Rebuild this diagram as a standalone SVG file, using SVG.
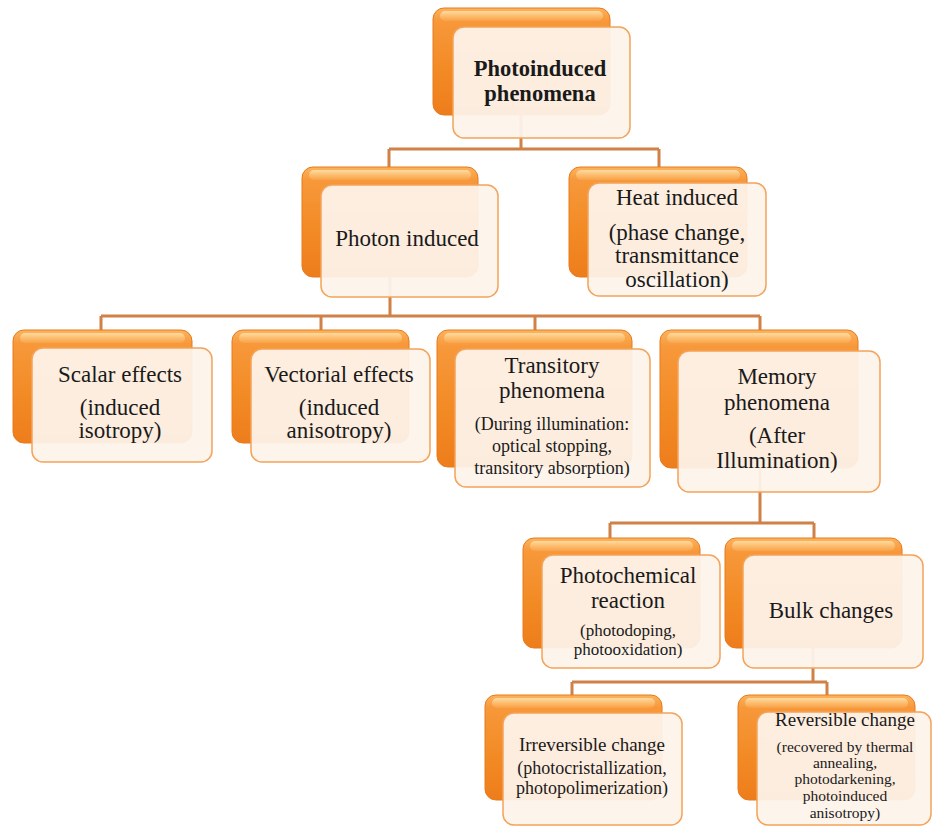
<svg xmlns="http://www.w3.org/2000/svg" width="932" height="827" viewBox="0 0 932 827">
<defs>
<linearGradient id="og" x1="0" y1="0" x2="0" y2="1">
<stop offset="0" stop-color="#fbb460"/>
<stop offset="0.12" stop-color="#f7983a"/>
<stop offset="0.6" stop-color="#f28a24"/>
<stop offset="1" stop-color="#ee7d1c"/>
</linearGradient>
<linearGradient id="hl" x1="0" y1="0" x2="0" y2="1">
<stop offset="0" stop-color="#ffe0a8" stop-opacity="0.9"/>
<stop offset="1" stop-color="#ffc677" stop-opacity="0.2"/>
</linearGradient>
<style>
.back{fill:url(#og);stroke:#e77a1d;stroke-width:1}
.hl{fill:url(#hl)}
.front{fill:#fdf3eb;fill-opacity:0.94;stroke:#f4a35a;stroke-width:1.5}
.con{fill:none;stroke:#cf8147;stroke-width:3}
text{font-family:"Liberation Serif","Times New Roman",serif;fill:#1a1a1a;text-anchor:middle}
.t{font-size:23px}
.m{font-size:19px}
.s{font-size:18px}
.p{font-size:17px}
.xs{font-size:15.5px}
.b{font-weight:bold;font-size:22.5px}
</style>
</defs>
<g id="connectors">
<path class="con" d="M521 115 V149 M389 149 H659 M389 149 V167 M659 149 V167"/>
<path class="con" d="M390 277 V316 M101 316 H760 M101 316 V330 M321 316 V330 M535 316 V330 M760 316 V330"/>
<path class="con" d="M760 468 V523 M610 523 H814 M610 523 V538 M814 523 V538"/>
<path class="con" d="M813 648 V682 M572 682 H827 M572 682 V695 M827 682 V695"/>
</g>
<g id="root">
<rect class="back" x="433" y="8" width="177" height="107" rx="11"/>
<rect class="hl" x="440" y="11" width="163" height="10" rx="5"/>
<rect class="front" x="453" y="27" width="177" height="111" rx="11"/>
<text class="b" x="540" y="76">Photoinduced</text>
<text class="b" x="540" y="101">phenomena</text>
</g>
<g id="photon">
<rect class="back" x="302" y="167" width="176" height="110" rx="11"/>
<rect class="hl" x="309" y="170" width="162" height="10" rx="5"/>
<rect class="front" x="321" y="185" width="177" height="112" rx="11"/>
<text class="t" x="407" y="246">Photon induced</text>
</g>
<g id="heat">
<rect class="back" x="569" y="167" width="178" height="110" rx="11"/>
<rect class="hl" x="576" y="170" width="164" height="10" rx="5"/>
<rect class="front" x="588" y="183" width="178" height="113" rx="11"/>
<text class="t" x="677" y="205">Heat  induced</text>
<text class="t" x="677" y="240">(phase change,</text>
<text class="t" x="677" y="263">transmittance</text>
<text class="t" x="677" y="287">oscillation)</text>
</g>
<g id="scalar">
<rect class="back" x="13" y="330" width="179" height="113" rx="11"/>
<rect class="hl" x="20" y="333" width="165" height="10" rx="5"/>
<rect class="front" x="32" y="348" width="180" height="114" rx="11"/>
<text class="t" x="120" y="382">Scalar effects</text>
<text class="t" x="120" y="415">(induced</text>
<text class="t" x="120" y="438">isotropy)</text>
</g>
<g id="vectorial">
<rect class="back" x="232" y="330" width="177" height="113" rx="11"/>
<rect class="hl" x="239" y="333" width="163" height="10" rx="5"/>
<rect class="front" x="251" y="349" width="179" height="113" rx="11"/>
<text class="t" x="339" y="382">Vectorial  effects</text>
<text class="t" x="339" y="415">(induced</text>
<text class="t" x="339" y="438">anisotropy)</text>
</g>
<g id="transitory">
<rect class="back" x="437" y="330" width="195" height="137" rx="11"/>
<rect class="hl" x="444" y="333" width="181" height="10" rx="5"/>
<rect class="front" x="455" y="349" width="195" height="138" rx="11"/>
<text class="t" x="552" y="373">Transitory</text>
<text class="t" x="552" y="398">phenomena</text>
<text class="s" x="552" y="430">(During illumination:</text>
<text class="s" x="552" y="452">optical stopping,</text>
<text class="s" x="552" y="474">transitory absorption)</text>
</g>
<g id="memory">
<rect class="back" x="660" y="330" width="198" height="138" rx="11"/>
<rect class="hl" x="667" y="333" width="184" height="10" rx="5"/>
<rect class="front" x="678" y="351" width="202" height="141" rx="11"/>
<text class="t" x="777" y="384">Memory</text>
<text class="t" x="777" y="410">phenomena</text>
<text class="t" x="777" y="443">(After</text>
<text class="t" x="777" y="468">Illumination)</text>
</g>
<g id="photochemical">
<rect class="back" x="523" y="538" width="177" height="110" rx="11"/>
<rect class="hl" x="530" y="541" width="163" height="10" rx="5"/>
<rect class="front" x="542" y="555" width="178" height="113" rx="11"/>
<text class="t" x="628" y="583">Photochemical</text>
<text class="t" x="628" y="608">reaction</text>
<text class="p" x="628" y="636">(photodoping,</text>
<text class="p" x="628" y="655">photooxidation)</text>
</g>
<g id="bulk">
<rect class="back" x="725" y="538" width="177" height="110" rx="11"/>
<rect class="hl" x="732" y="541" width="163" height="10" rx="5"/>
<rect class="front" x="743" y="555" width="180" height="113" rx="11"/>
<text class="t" x="831" y="618">Bulk  changes</text>
</g>
<g id="irreversible">
<rect class="back" x="485" y="695" width="177" height="105" rx="11"/>
<rect class="hl" x="492" y="698" width="163" height="10" rx="5"/>
<rect class="front" x="503" y="713" width="179" height="112" rx="11"/>
<text class="m" x="592" y="751">Irreversible change</text>
<text class="s" x="592" y="774">(photocristallization,</text>
<text class="s" x="592" y="794">photopolimerization)</text>
</g>
<g id="reversible">
<rect class="back" x="738" y="695" width="177" height="105" rx="11"/>
<rect class="hl" x="745" y="698" width="163" height="10" rx="5"/>
<rect class="front" x="757" y="712" width="174" height="113" rx="11"/>
<text class="m" x="845" y="726">Reversible change</text>
<text class="xs" x="845" y="752">(recovered  by thermal</text>
<text class="xs" x="845" y="768">annealing,</text>
<text class="xs" x="845" y="784">photodarkening,</text>
<text class="xs" x="845" y="801">photoinduced</text>
<text class="xs" x="845" y="818">anisotropy)</text>
</g>
</svg>
